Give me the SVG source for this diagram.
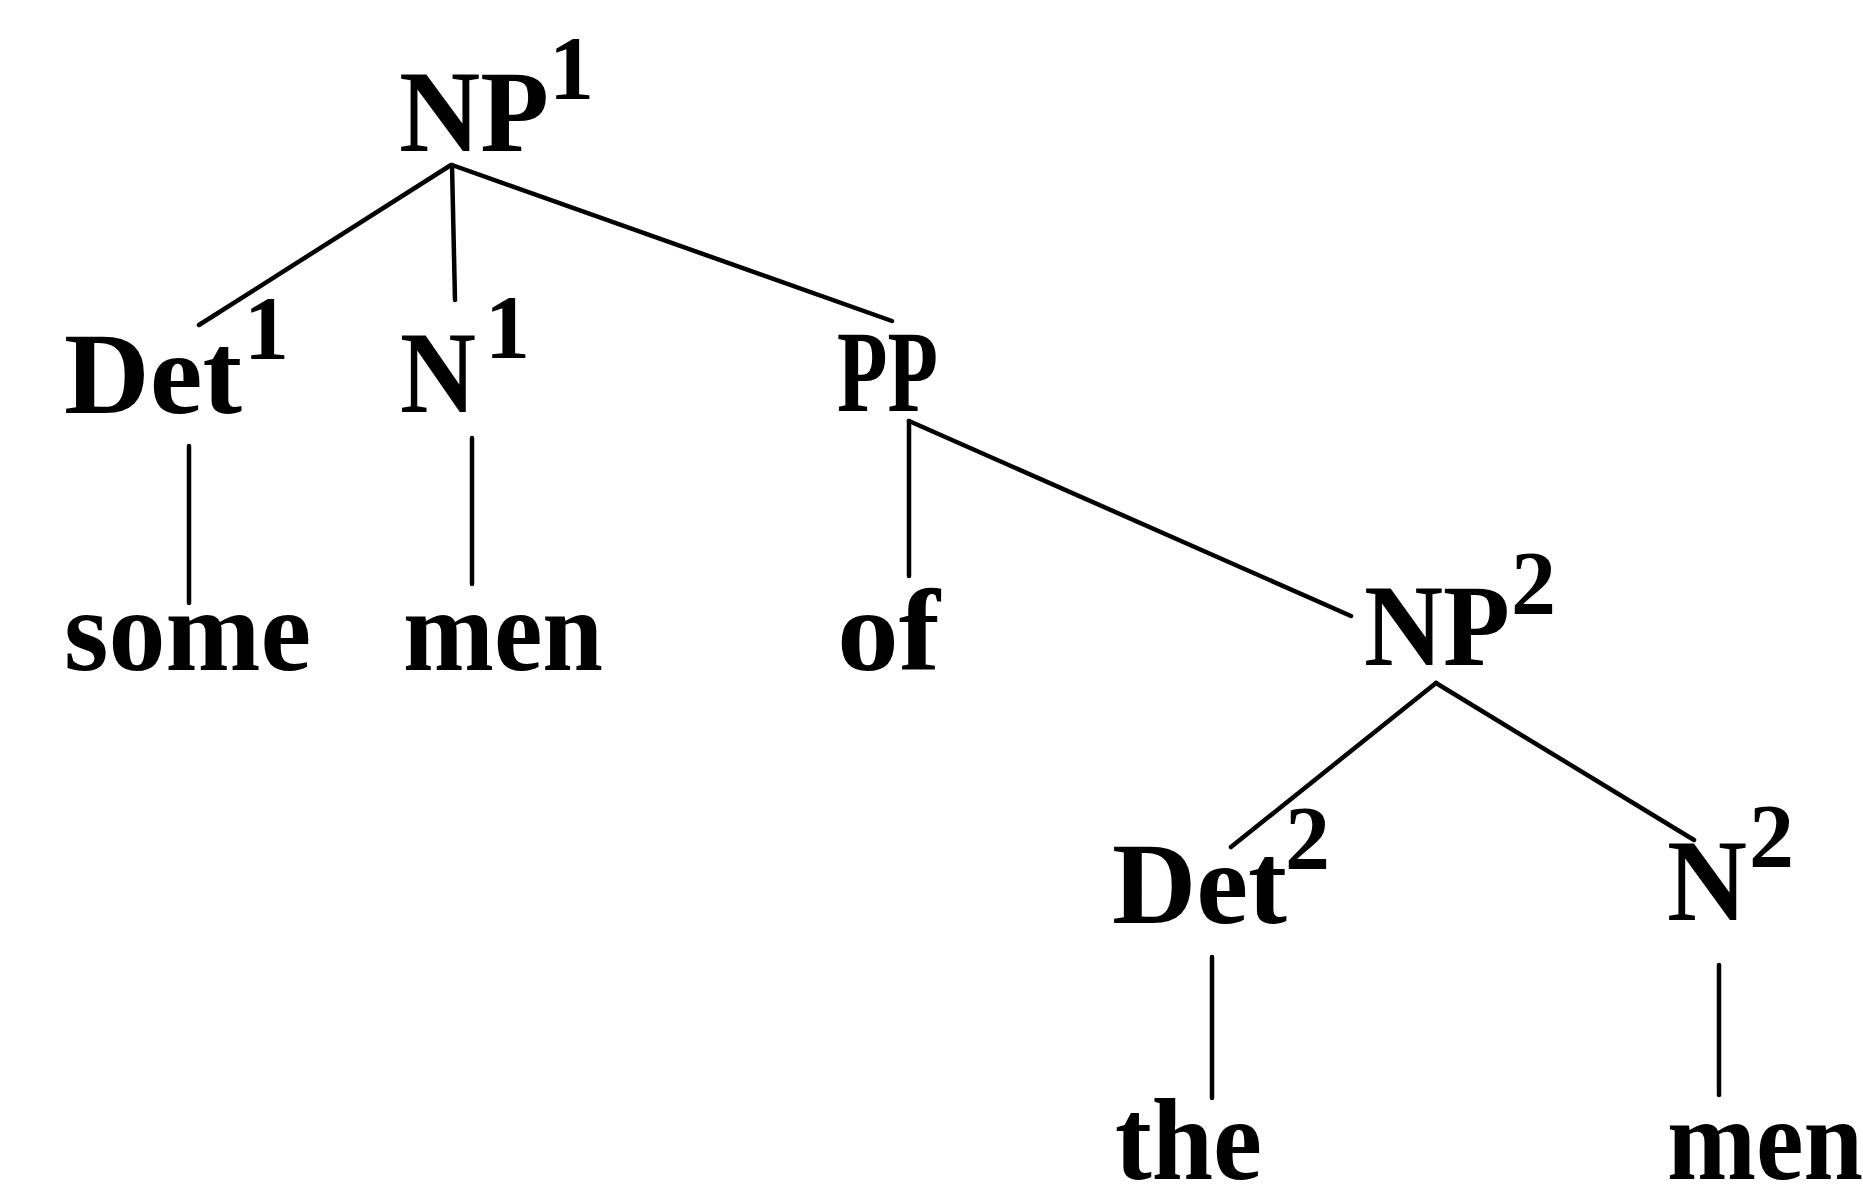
<svg xmlns="http://www.w3.org/2000/svg" width="1863" height="1185" viewBox="0 0 1863 1185">
<style>
.t{font-family:"Liberation Serif","Times New Roman",serif;font-weight:bold;font-size:116px;fill:#000}
.s{font-family:"Liberation Serif","Times New Roman",serif;font-weight:bold;font-size:90px;fill:#000}
.e{stroke:#000;stroke-width:4.5;fill:none;stroke-linecap:round}
</style>
<rect width="1863" height="1185" fill="#fff"/>
<g id="connectors">
<line class="e" x1="451" y1="165" x2="199" y2="325"/>
<line class="e" x1="452" y1="165" x2="455" y2="300"/>
<line class="e" x1="452" y1="165" x2="892" y2="321"/>
<line class="e" x1="189" y1="446" x2="189" y2="603"/>
<line class="e" x1="472" y1="438" x2="472" y2="584"/>
<line class="e" x1="909" y1="421" x2="909" y2="576"/>
<line class="e" x1="909" y1="421" x2="1351" y2="616"/>
<line class="e" x1="1436" y1="683" x2="1231" y2="847"/>
<line class="e" x1="1436" y1="683" x2="1694" y2="840"/>
<line class="e" x1="1212" y1="957" x2="1212" y2="1098"/>
<line class="e" x1="1719" y1="965" x2="1719" y2="1095"/>
</g>
<g id="np1"><text class="t" x="399" y="151" textLength="150" lengthAdjust="spacingAndGlyphs">NP</text><text class="s" x="549" y="99">1</text></g>
<g id="det1"><text class="t" x="64" y="413" textLength="178" lengthAdjust="spacingAndGlyphs">Det</text><text class="s" x="244" y="359">1</text></g>
<g id="n1"><text class="t" x="400" y="412" textLength="76" lengthAdjust="spacingAndGlyphs">N</text><text class="s" x="485" y="358">1</text></g>
<g id="pp"><text class="t" x="837" y="411" textLength="101" lengthAdjust="spacingAndGlyphs">PP</text></g>
<g id="some"><text class="t" x="64" y="670" textLength="247" lengthAdjust="spacingAndGlyphs">some</text></g>
<g id="men1"><text class="t" x="403" y="670" textLength="200" lengthAdjust="spacingAndGlyphs">men</text></g>
<g id="of"><text class="t" x="837" y="670" textLength="103" lengthAdjust="spacingAndGlyphs">of</text></g>
<g id="np2"><text class="t" x="1364" y="665" textLength="146" lengthAdjust="spacingAndGlyphs">NP</text><text class="s" x="1511" y="614">2</text></g>
<g id="det2"><text class="t" x="1112" y="923" textLength="175" lengthAdjust="spacingAndGlyphs">Det</text><text class="s" x="1285" y="869">2</text></g>
<g id="n2"><text class="t" x="1667" y="920" textLength="80" lengthAdjust="spacingAndGlyphs">N</text><text class="s" x="1749" y="867">2</text></g>
<g id="the"><text class="t" x="1115" y="1179" textLength="147" lengthAdjust="spacingAndGlyphs">the</text></g>
<g id="men2"><text class="t" x="1667" y="1179" textLength="196" lengthAdjust="spacingAndGlyphs">men</text></g>
</svg>
